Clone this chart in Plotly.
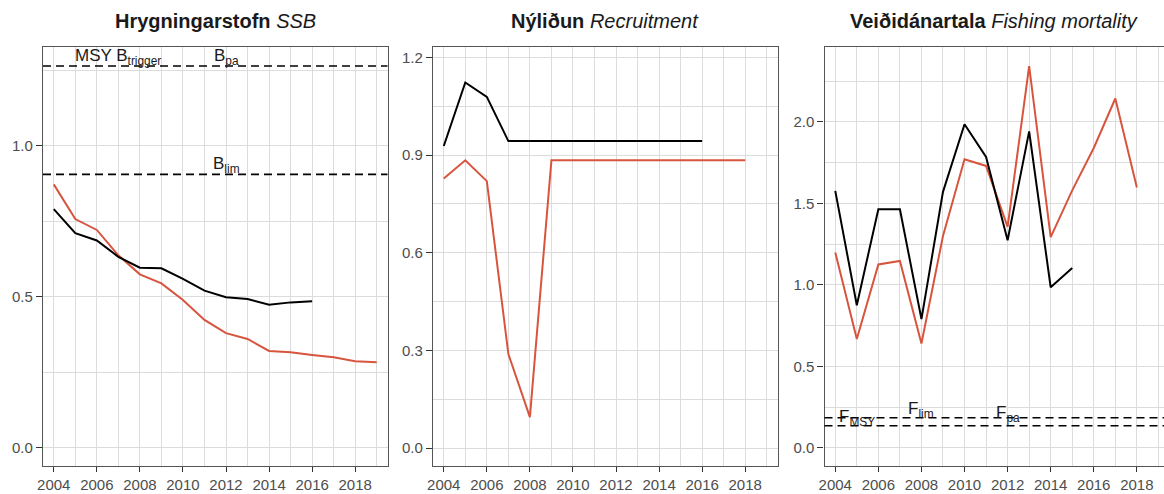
import plotly.graph_objects as go

# ---------------- data ----------------
ssb_years_new = list(range(2004, 2020))
ssb_new = [0.872, 0.757, 0.721, 0.637, 0.574, 0.544, 0.489, 0.423, 0.379, 0.360,
           0.320, 0.316, 0.307, 0.299, 0.286, 0.283]
ssb_years_old = list(range(2004, 2017))
ssb_old = [0.790, 0.710, 0.686, 0.632, 0.596, 0.594, 0.559, 0.520, 0.498, 0.492,
           0.473, 0.481, 0.485]

rec_years_new = list(range(2004, 2019))
rec_new = [0.828, 0.884, 0.820, 0.289, 0.095, 0.884, 0.884, 0.884, 0.884, 0.884,
           0.884, 0.884, 0.884, 0.884, 0.884]
rec_years_old = list(range(2004, 2017))
rec_old = [0.928, 1.123, 1.079, 0.943, 0.943, 0.943, 0.943, 0.943, 0.943, 0.943,
           0.943, 0.943, 0.943]

f_years_new = list(range(2004, 2019))
f_new = [1.199, 0.667, 1.125, 1.147, 0.640, 1.300, 1.771, 1.730, 1.356, 2.343,
         1.293, 1.580, 1.840, 2.144, 1.597]
f_years_old = list(range(2004, 2016))
f_old = [1.577, 0.875, 1.464, 1.464, 0.790, 1.571, 1.986, 1.785, 1.274, 1.942,
         0.985, 1.104]

# reference points
b_trigger = 1.264
b_pa = 1.264
b_lim = 0.905
f_lim = 0.184
f_msy = 0.135

titles = [("Hrygningarstofn", "SSB"), ("Nýliðun", "Recruitment"),
          ("Veiðidánartala", "Fishing mortality")]

RED = "#D7553E"
BLACK = "#000000"
GRID = "#DCDCDC"
BORDER = "#555555"
TICKC = "#4D4D4D"
FONT = "Liberation Sans, Arial, sans-serif"

W, H = 1164, 494

def px_x(p):
    return p / W

def px_y(p):
    return 1 - p / H

fig = go.Figure()

def line(x, y, color, ax):
    fig.add_trace(go.Scatter(x=x, y=y, mode="lines", line=dict(color=color, width=2),
                             xaxis="x" + ax, yaxis="y" + ax, showlegend=False,
                             hoverinfo="skip"))

line(ssb_years_new, ssb_new, RED, "")
line(ssb_years_old, ssb_old, BLACK, "")
line(rec_years_new, rec_new, RED, "2")
line(rec_years_old, rec_old, BLACK, "2")
line(f_years_new, f_new, RED, "3")
line(f_years_old, f_old, BLACK, "3")

# dashed reference lines
def hline(y, ax):
    fig.add_shape(type="line", xref=("x" + ax + " domain"), yref="y" + ax,
                  x0=0, x1=1, y0=y, y1=y,
                  line=dict(color="black", width=1.6, dash="8px,5px"))

hline(b_trigger, "")
hline(b_lim, "")
hline(f_lim, "3")
hline(f_msy, "3")

ydom = [px_y(466), px_y(47)]
xdoms = [[px_x(43), px_x(387.5)], [px_x(433), px_x(777.5)], [px_x(824.5), 1.0]]
xranges = [[2003.5, 2019.5], [2003.5, 2019.5], [2003.5, 2019.26]]
yranges = [[-0.061, 1.327], [-0.055, 1.232], [-0.112, 2.46]]
ydticks = [0.5, 0.3, 0.5]

layout = dict(width=W, height=H, autosize=False, margin=dict(l=0, r=0, t=0, b=0),
              paper_bgcolor="white", plot_bgcolor="white",
              font=dict(family=FONT, color=TICKC, size=15), showlegend=False)

for i in range(3):
    s = "" if i == 0 else str(i + 1)
    layout["xaxis" + s] = dict(
        domain=xdoms[i], range=xranges[i], anchor="y" + s, automargin=False,
        tickmode="linear", tick0=2004, dtick=2,
        showgrid=True, gridcolor=GRID, gridwidth=1.2,
        minor=dict(dtick=1, tick0=2004, showgrid=True, gridcolor=GRID, gridwidth=1.2),
        ticks="outside", ticklen=5, tickwidth=1.3, tickcolor="#333333",
        showline=True, linecolor=BORDER, linewidth=1.2, mirror=True,
        zeroline=False, tickfont=dict(size=15, color=TICKC, family=FONT),
    )
    layout["yaxis" + s] = dict(
        domain=ydom, range=yranges[i], anchor="x" + s, automargin=False,
        tickmode="linear", tick0=0, dtick=ydticks[i], tickformat=".1f",
        showgrid=True, gridcolor=GRID, gridwidth=1.2,
        minor=dict(dtick=ydticks[i] / 2, tick0=0, showgrid=True, gridcolor=GRID, gridwidth=1.2),
        ticks="outside", ticklen=6, tickwidth=1.3, tickcolor="#333333",
        showline=True, linecolor=BORDER, linewidth=1.2, mirror=(i < 2),
        zeroline=False, tickfont=dict(size=15, color=TICKC, family=FONT),
    )

fig.update_layout(**layout)

# titles
for i, (bold, ital) in enumerate(titles):
    s = "" if i == 0 else str(i + 1)
    fig.add_annotation(xref="x" + s + " domain", yref="paper", x=0.5, y=px_y(21),
                       text=f"<b>{bold}</b> <i>{ital}</i>", showarrow=False,
                       xanchor="center", yanchor="middle",
                       font=dict(size=20, color="#1A1A1A", family=FONT))

# reference labels
def ref_label(text, x, y, ax, yshift):
    fig.add_annotation(xref="x" + ax, yref="y" + ax, x=x, y=y, text=text,
                       showarrow=False, xanchor="center", yanchor="bottom",
                       yshift=yshift, font=dict(size=17, color="#1A1A1A", family=FONT))

ref_label("MSY B<sub>trigger</sub>", 2007, b_trigger, "", -4)
ref_label("B<sub>pa</sub>", 2012, b_pa, "", -4)
ref_label("B<sub>lim</sub>", 2012, b_lim, "", -4)
ref_label("F<sub>MSY</sub>", 2005, f_msy, "3", -5)
ref_label("F<sub>lim</sub>", 2008, f_lim, "3", -5)
ref_label("F<sub>pa</sub>", 2012, 0.160, "3", -5)

fig.write_html("out.html", post_script="document.body.style.margin='0';",
               config={"displayModeBar": False})
